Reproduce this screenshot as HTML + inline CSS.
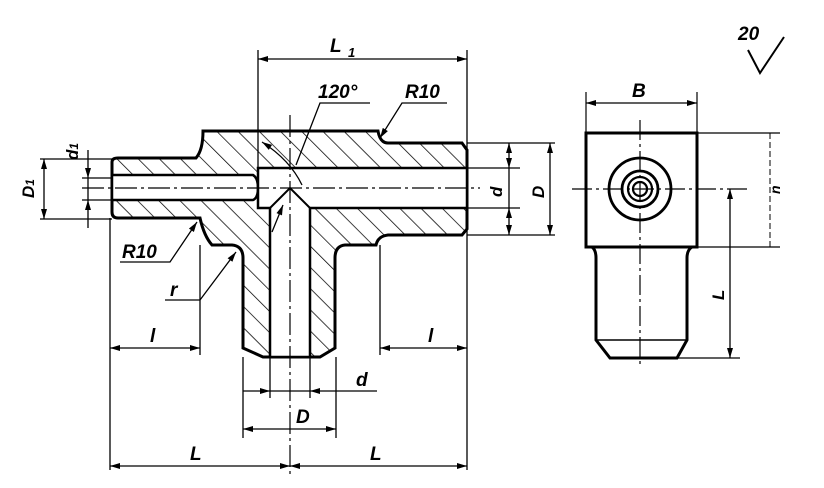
<!DOCTYPE html>
<html><head><meta charset="utf-8"><style>
html,body{margin:0;padding:0;background:#fff;width:824px;height:488px;overflow:hidden}
svg{display:block}
text{font-family:"Liberation Sans",sans-serif;font-style:italic;font-weight:bold;fill:#000}
</style></head><body>
<svg width="824" height="488" viewBox="0 0 824 488" xmlns="http://www.w3.org/2000/svg">
<defs>
<pattern id="h" width="15" height="15" patternUnits="userSpaceOnUse" patternTransform="rotate(-45)">
<line x1="0" y1="0" x2="0" y2="15" stroke="#000" stroke-width="1.5"/>
</pattern>
<marker id="a" viewBox="0 0 10 6" refX="10" refY="3" markerWidth="11" markerHeight="6" orient="auto-start-reverse" markerUnits="userSpaceOnUse">
<path d="M0,0 L10,3 L0,6 z" fill="#000"/></marker>
</defs>
<!-- hatched body -->
<path d="M112,162 Q112,158 118,158 L196,158 Q203,150 203,131 L378,131 Q380,143 388,143 L462,143 L467,150 L467,229 L462,235 L388,235 Q378,236 376,245 L345,245 Q335,246 335,258 L335,348 L320,357 L263,357 L243,348 L243,258 Q243,246 232,245 L212,245 Q204,236 200,218 L118,218 Q112,218 112,212 Z" fill="url(#h)" stroke="#000" stroke-width="3"/>
<!-- bores (white) -->
<path d="M112,175 L253,175 Q258,178 258,188 Q258,198 253,200 L112,200 Z" fill="#fff" stroke="#000" stroke-width="2.5"/>
<path d="M258,168 L467,168 L467,208 L310,208 L310,357 L270,357 L270,208 L258,208 Z" fill="#fff" stroke="#000" stroke-width="2.5"/>
<path d="M270,208 L290,188 L310,208" fill="none" stroke="#000" stroke-width="2"/>
<line x1="258" y1="168" x2="258" y2="208" stroke="#000" stroke-width="2"/>
<!-- centerlines -->
<line x1="82" y1="188" x2="480" y2="188" stroke="#000" stroke-width="1.2" stroke-dasharray="22,4,3,4"/>
<line x1="290" y1="115" x2="290" y2="476" stroke="#000" stroke-width="1.2" stroke-dasharray="22,4,3,4"/>
<!-- extension lines -->
<g stroke="#000" stroke-width="1.3" fill="none">
<line x1="258" y1="50" x2="258" y2="168"/><line x1="467" y1="50" x2="467" y2="470"/>
<line x1="40" y1="159" x2="112" y2="159"/><line x1="40" y1="219" x2="112" y2="219"/>
<line x1="82" y1="178" x2="112" y2="178"/><line x1="82" y1="200" x2="112" y2="200"/>
<line x1="467" y1="143" x2="555" y2="143"/><line x1="467" y1="235" x2="555" y2="235"/>
<line x1="467" y1="168" x2="520" y2="168"/><line x1="467" y1="208" x2="520" y2="208"/>
<line x1="110" y1="218" x2="110" y2="470"/><line x1="200" y1="245" x2="200" y2="355"/>
<line x1="380" y1="245" x2="380" y2="355"/>
<line x1="243" y1="357" x2="243" y2="438"/><line x1="336" y1="357" x2="336" y2="438"/>
<line x1="270" y1="357" x2="270" y2="398"/><line x1="310" y1="357" x2="310" y2="398"/>
</g>
<!-- dimensions -->
<g stroke="#000" stroke-width="1.3" fill="none">
<line x1="258" y1="59" x2="467" y2="59" marker-start="url(#a)" marker-end="url(#a)"/>
<line x1="44" y1="159" x2="44" y2="219" marker-start="url(#a)" marker-end="url(#a)"/>
<line x1="88" y1="150" x2="88" y2="178" marker-end="url(#a)"/>
<line x1="88" y1="228" x2="88" y2="200" marker-end="url(#a)"/>
<line x1="88" y1="178" x2="88" y2="200"/>
<line x1="509" y1="143" x2="509" y2="168" marker-start="url(#a)" marker-end="url(#a)"/>
<line x1="509" y1="208" x2="509" y2="235" marker-start="url(#a)" marker-end="url(#a)"/>
<line x1="509" y1="168" x2="509" y2="208"/>
<line x1="550" y1="143" x2="550" y2="235" marker-start="url(#a)" marker-end="url(#a)"/>
<line x1="110" y1="348" x2="200" y2="348" marker-start="url(#a)" marker-end="url(#a)"/>
<line x1="380" y1="348" x2="467" y2="348" marker-start="url(#a)" marker-end="url(#a)"/>
<line x1="243" y1="391" x2="270" y2="391" marker-end="url(#a)"/>
<line x1="377" y1="391" x2="310" y2="391" marker-end="url(#a)"/>
<line x1="270" y1="391" x2="310" y2="391"/>
<line x1="243" y1="429" x2="336" y2="429" marker-start="url(#a)" marker-end="url(#a)"/>
<line x1="110" y1="466" x2="290" y2="466" marker-start="url(#a)" marker-end="url(#a)"/>
<line x1="290" y1="466" x2="467" y2="466" marker-start="url(#a)" marker-end="url(#a)"/>
<!-- leaders -->
<polyline points="370,103 320,103 296,165"/>
<polyline points="447,103 402,103 380,138" marker-end="url(#a)"/>
<polyline points="120,262 170,262 197,222" marker-end="url(#a)"/>
<polyline points="165,300 200,300 236,252" marker-end="url(#a)"/>
<path d="M262,142 Q290,160 302,185" marker-start="url(#a)"/>
<path d="M272,232 L283,205" marker-end="url(#a)"/>
</g>
<g font-size="19">
<text x="330" y="52">L</text><text x="348" y="57" font-size="13">1</text>
<text x="318" y="98">120°</text><text x="405" y="98">R10</text>
<text x="122" y="258">R10</text><text x="170" y="296">r</text>
<text x="150" y="342">l</text><text x="428" y="342">l</text>
<text x="356" y="386">d</text><text x="296" y="423">D</text>
<text x="190" y="460">L</text><text x="370" y="460">L</text>
<text x="632" y="97">B</text>
</g>
<text transform="translate(34,198) rotate(-90)" font-size="17">D<tspan font-size="12">1</tspan></text>
<text transform="translate(78,160) rotate(-90)" font-size="17">d<tspan font-size="12">1</tspan></text>
<text transform="translate(502,197) rotate(-90)" font-size="17">d</text>
<text transform="translate(544,198) rotate(-90)" font-size="17">D</text>
<text transform="translate(724,300) rotate(-90)" font-size="17">L</text>
<text transform="translate(780,194) rotate(-90)" font-size="14">n</text>
<!-- side view -->
<g stroke="#000" fill="none">
<rect x="586" y="133" width="111" height="114" stroke-width="3"/>
<path d="M592,247 Q596,250 596,258 L596,340 L610,358 L677,358 L687,340 L687,258 Q687,250 692,247" stroke-width="3"/>
<line x1="596" y1="340" x2="687" y2="340" stroke-width="1.5"/>
<circle cx="640" cy="189" r="31" stroke-width="2.8"/>
<circle cx="640" cy="189" r="18" stroke-width="2.8"/>
<circle cx="640" cy="189" r="12" stroke-width="2.2"/>
<circle cx="640" cy="189" r="7" stroke-width="2.2"/>
<line x1="572" y1="189" x2="748" y2="189" stroke-width="1.2" stroke-dasharray="20,4,3,4"/>
<line x1="640" y1="120" x2="640" y2="368" stroke-width="1.2" stroke-dasharray="20,4,3,4"/>
<line x1="586" y1="92" x2="586" y2="133" stroke-width="1.2"/>
<line x1="697" y1="92" x2="697" y2="133" stroke-width="1.2"/>
<line x1="586" y1="103" x2="697" y2="103" stroke-width="1.3" marker-start="url(#a)" marker-end="url(#a)"/>
<line x1="697" y1="133" x2="780" y2="133" stroke-width="1.2"/>
<line x1="697" y1="247" x2="780" y2="247" stroke-width="1.2"/>
<line x1="677" y1="358" x2="740" y2="358" stroke-width="1.2"/>
<line x1="730" y1="189" x2="730" y2="358" stroke-width="1.3" marker-start="url(#a)" marker-end="url(#a)"/>
<line x1="770" y1="133" x2="770" y2="247" stroke-width="1" stroke-dasharray="6,3"/>
<polyline points="748,50 760,73 784,37" stroke-width="2"/>
</g>
<text x="738" y="40" font-size="19">20</text>
</svg>
</body></html>
